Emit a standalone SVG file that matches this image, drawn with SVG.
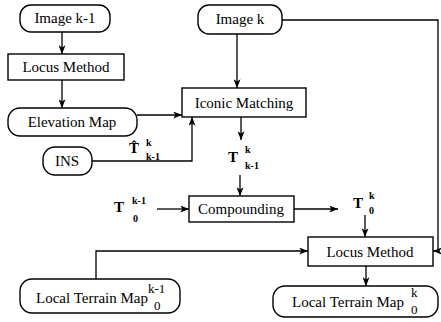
<svg xmlns="http://www.w3.org/2000/svg" width="441" height="322" viewBox="0 0 441 322">
<defs>
<marker id="ah" viewBox="0 0 10 8" refX="10" refY="4" markerWidth="9" markerHeight="7" markerUnits="userSpaceOnUse" orient="auto">
<path d="M0,0 L10,4 L0,8 L2.5,4 Z" fill="#000"/>
</marker>
<style>
.box{fill:#fff;stroke:#000;stroke-width:1.4}
text{font-family:Liberation Serif, DejaVu Serif, Noto Serif, serif}
.t{font-size:15px;fill:#000;text-anchor:middle}
.s{font-size:13px;fill:#000}
.m{font-weight:bold;fill:#000}
.c{fill:none;stroke:#000;stroke-width:1.3}
</style>
</defs>
<rect width="441" height="322" fill="#fff"/>
<g id="connectors">
<path class="c" d="M62,32 V54" marker-end="url(#ah)"/>
<path class="c" d="M62,80 V108" marker-end="url(#ah)"/>
<path class="c" d="M137,115 H182" marker-end="url(#ah)"/>
<path class="c" d="M237,34 V88" marker-end="url(#ah)"/>
<path class="c" d="M92,161 H192 V117" marker-end="url(#ah)"/>
<path class="c" d="M241,117 V140" marker-end="url(#ah)"/>
<path class="c" d="M240,175 V196" marker-end="url(#ah)"/>
<path class="c" d="M157,209 H189" marker-end="url(#ah)"/>
<path class="c" d="M294,209 H338" marker-end="url(#ah)"/>
<path class="c" d="M365,215 V237" marker-end="url(#ah)"/>
<path class="c" d="M282,20 H438 V251 H433" marker-end="url(#ah)"/>
<path class="c" d="M96,279 V251 H308" marker-end="url(#ah)"/>
<path class="c" d="M366,266 V286" marker-end="url(#ah)"/>
</g>
<g id="image-k-1"><rect class="box" x="20" y="5" width="90" height="27" rx="11"/><text class="t" x="65" y="23">Image k-1</text></g>
<g id="locus-method-1"><rect class="box" x="8" y="54" width="116" height="26"/><text class="t" x="66" y="72">Locus Method</text></g>
<g id="elevation-map"><rect class="box" x="8" y="108" width="129" height="28" rx="12"/><text class="t" x="72" y="127">Elevation Map</text></g>
<g id="ins"><rect class="box" x="43" y="147" width="49" height="28" rx="12"/><text class="t" x="67" y="166">INS</text></g>
<g id="image-k"><rect class="box" x="198" y="5" width="84" height="29" rx="11"/><text class="t" x="240" y="24">Image k</text></g>
<g id="iconic-matching"><rect class="box" x="182" y="88" width="124" height="29"/><text class="t" x="244" y="108">Iconic Matching</text></g>
<g id="compounding"><rect class="box" x="189" y="196" width="105" height="26"/><text class="t" x="241" y="214">Compounding</text></g>
<g id="locus-method-2"><rect class="box" x="308" y="237" width="125" height="29"/><text class="t" x="370" y="257">Locus Method</text></g>
<g id="local-terrain-map-k-1"><rect class="box" x="20" y="279" width="160" height="34" rx="12"/><text class="t" x="92" y="303">Local Terrain Map</text><text class="s" x="148" y="293">k-1</text><text class="s" x="154" y="310">0</text></g>
<g id="local-terrain-map-k"><rect class="box" x="273" y="286" width="165" height="31" rx="12"/><text class="t" x="348" y="307">Local Terrain Map</text><text class="s" x="411" y="297">k</text><text class="s" x="411" y="314">0</text></g>
<g id="labels">
<text class="m" x="129" y="153" font-size="15">T̂</text>
<text class="m" x="146" y="146" font-size="10">k</text><text class="m" x="146" y="160" font-size="10">k-1</text>
<text class="m" x="228" y="162" font-size="15">T</text>
<text class="m" x="245" y="153" font-size="10">k</text><text class="m" x="245" y="169" font-size="10">k-1</text>
<text class="m" x="114" y="212" font-size="15">T</text>
<text class="m" x="132" y="204" font-size="10">k-1</text><text class="m" x="133" y="222" font-size="10">0</text>
<text class="m" x="353" y="208" font-size="15">T</text>
<text class="m" x="369" y="199" font-size="10">k</text><text class="m" x="369" y="214" font-size="10">0</text>
</g>
</svg>
